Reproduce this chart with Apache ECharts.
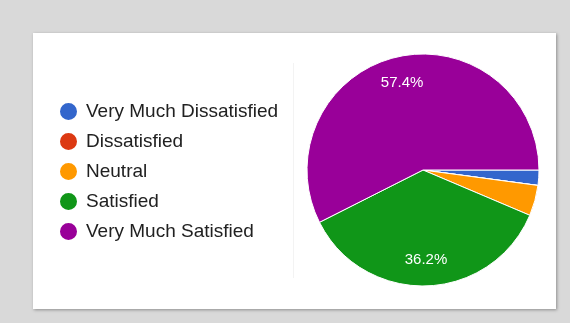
<!DOCTYPE html>
<html>
<head>
<meta charset="utf-8">
<script src="https://cdn.jsdelivr.net/npm/echarts@6/dist/echarts.min.js"></script>
<style>
html,body{margin:0;padding:0;background:#d9d9d9;}
#c{width:570px;height:323px;}
</style>
</head>
<body>
<div id="c"></div>
<script>
const categories = ['Very Much Dissatisfied', 'Dissatisfied', 'Neutral', 'Satisfied', 'Very Much Satisfied'];
const counts = [1, 0, 2, 17, 27];
const colors = ['#3366cc', '#dc3912', '#ff9900', '#109618', '#990099'];

const pieData = categories.map((n, i) => ({ name: n, value: counts[i] }));
const chart = echarts.init(document.getElementById('c'));
chart.setOption({
  backgroundColor: '#d9d9d9',
  animation: false,
  color: colors,
  graphic: [
    { type: 'rect', z: -10, shape: { x: 33, y: 33, width: 523, height: 276 },
      style: { fill: '#ffffff', shadowBlur: 3, shadowColor: 'rgba(0,0,0,0.35)', shadowOffsetX: 1, shadowOffsetY: 1 } },
    { type: 'line', z: -9, shape: { x1: 293.5, y1: 63, x2: 293.5, y2: 278 },
      style: { stroke: '#f3f3f3', lineWidth: 1 } }
  ],
  legend: {
    orient: 'vertical',
    left: 58,
    top: 101,
    padding: 0,
    icon: 'circle',
    itemWidth: 19,
    itemHeight: 19,
    itemGap: 9,
    data: categories,
    textStyle: { fontFamily: 'Liberation Sans, Arial, sans-serif', fontSize: 19, lineHeight: 21, color: '#212121', padding: [0, 0, 0, 3] }
  },
  series: [
    {
      type: 'pie',
      center: [423, 170],
      radius: [0, 116],
      startAngle: 0,
      clockwise: true,
      percentPrecision: 1,
      label: { show: false },
      labelLine: { show: false },
      itemStyle: { borderColor: '#ffffff', borderWidth: 1 },
      emphasis: { disabled: true },
      data: pieData
    },
    {
      type: 'pie',
      center: [423, 170],
      radius: [58, 116],
      startAngle: 0,
      clockwise: true,
      percentPrecision: 1,
      silent: true,
      legendHoverLink: false,
      itemStyle: { color: 'rgba(0,0,0,0)', borderWidth: 0 },
      label: {
        show: true,
        position: 'inside',
        color: '#ffffff',
        fontFamily: 'Liberation Sans, Arial, sans-serif',
        fontSize: 15,
        formatter: p => (p.percent >= 10 ? p.percent.toFixed(1) + '%' : '')
      },
      labelLine: { show: false },
      emphasis: { disabled: true },
      data: pieData
    }
  ]
});
</script>
</body>
</html>
